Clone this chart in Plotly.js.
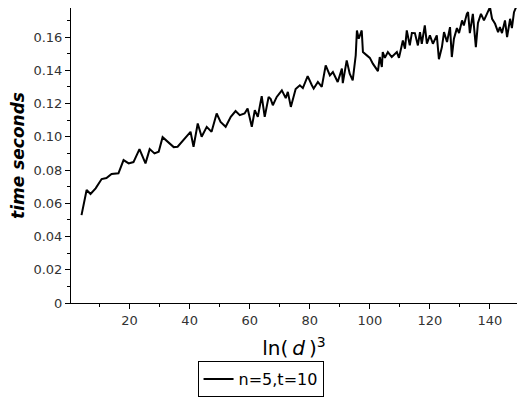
<!DOCTYPE html>
<html>
<head>
<meta charset="utf-8">
<script src="https://cdn.plot.ly/plotly-3.0.1.min.js"></script>
<style>
  html, body { margin: 0; padding: 0; background: #fff; }
  #chart { width: 524px; height: 400px; }
</style>
</head>
<body>
<div id="chart"></div>
<script>
"use strict";

const lnD3 = [
  4.0, 5.7, 7.0, 8.7, 10.7, 12.3, 14.0, 16.3, 18.0, 19.7, 21.3, 23.3, 25.3, 26.7, 28.3, 29.7,
  31.0, 32.7, 34.7, 36.0, 38.3, 40.3, 41.3, 42.7, 44.0, 45.7, 47.3, 49.0, 50.3, 52.0, 53.7,
  55.3, 56.7, 58.3, 59.3, 60.7, 61.7, 62.7, 64.0, 65.0, 66.3, 67.0, 67.7, 69.0, 70.7, 72.0,
  72.7, 73.7, 75.3, 76.7, 77.7, 79.3, 80.7, 81.3, 82.7, 84.0, 85.3, 86.7, 87.7, 89.3, 90.7,
  91.0, 92.3, 93.3, 94.3, 95.3, 95.7, 96.3, 97.3, 97.7, 99.0, 100.0, 101.0, 101.7, 102.7,
  103.3, 104.0, 104.3, 105.0, 106.0, 107.3, 109.0, 109.7, 111.0, 111.7, 112.3, 113.3, 114.0,
  115.0, 116.0, 116.7, 117.3, 118.3, 119.0, 120.0, 121.0, 122.3, 123.0, 124.0, 124.7, 125.7,
  126.7, 127.3, 128.0, 129.0, 129.7, 130.7, 131.3, 132.3, 132.7, 133.3, 134.3, 135.3, 136.0,
  137.0, 138.0, 139.3, 140.0, 140.7, 141.7, 142.7, 143.3, 144.0, 145.0, 145.7, 146.7, 147.3,
  148.0, 148.7
];
const timeSec = [
  0.0529, 0.068, 0.0656, 0.069, 0.0746, 0.0752, 0.0776, 0.078, 0.086, 0.084, 0.0848, 0.0926,
  0.084, 0.0926, 0.090, 0.091, 0.0998, 0.0968, 0.0938, 0.094, 0.099, 0.103, 0.094, 0.108,
  0.100, 0.106, 0.103, 0.114, 0.109, 0.106, 0.112, 0.1155, 0.113, 0.114, 0.117, 0.106, 0.116,
  0.112, 0.1245, 0.112, 0.124, 0.1227, 0.119, 0.124, 0.128, 0.1233, 0.127, 0.118, 0.1287,
  0.131, 0.1293, 0.1365, 0.131, 0.129, 0.133, 0.130, 0.143, 0.137, 0.139, 0.133, 0.141,
  0.1323, 0.146, 0.138, 0.134, 0.149, 0.164, 0.159, 0.164, 0.151, 0.149, 0.1475, 0.144,
  0.142, 0.1395, 0.148, 0.142, 0.151, 0.1475, 0.151, 0.148, 0.151, 0.1475, 0.158, 0.153,
  0.164, 0.155, 0.1625, 0.1624, 0.155, 0.163, 0.156, 0.167, 0.156, 0.161, 0.156, 0.161,
  0.1467, 0.154, 0.163, 0.157, 0.166, 0.148, 0.159, 0.1654, 0.1624, 0.170, 0.167, 0.174,
  0.175, 0.1624, 0.174, 0.154, 0.1685, 0.174, 0.170, 0.176, 0.178, 0.171, 0.168, 0.163,
  0.166, 0.1624, 0.170, 0.160, 0.171, 0.1654, 0.175, 0.178
];
const yTicks = [0, 0.02, 0.04, 0.06, 0.08, 0.10, 0.12, 0.14, 0.16];
const yTickText = ["0", "0.02", "0.04", "0.06", "0.08", "0.10", "0.12", "0.14", "0.16"];
const xTicks = [20, 40, 60, 80, 100, 120, 140];
const seriesName = "n=5,t=10";

const font = "DejaVu Sans, Verdana, sans-serif";

const trace = {
  type: "scatter",
  mode: "lines",
  name: seriesName,
  x: lnD3,
  y: timeSec,
  line: { color: "#000", width: 2 },
  hoverinfo: "x+y",
};

const axisBase = {
  showline: true,
  linecolor: "#000",
  linewidth: 1,
  showgrid: false,
  zeroline: false,
  ticks: "outside",
  ticklen: 5,
  tickcolor: "#000",
  tickfont: { family: font, size: 13, color: "#333" },
};

const layout = {
  width: 524,
  height: 400,
  paper_bgcolor: "#fff",
  plot_bgcolor: "#fff",
  margin: { l: 71, r: 7, t: 8, b: 97, autoexpand: false },
  showlegend: true,
  legend: {
    orientation: "h",
    x: 0.425, xanchor: "center",
    y: -0.197, yanchor: "top",
    bordercolor: "#000",
    borderwidth: 1,
    font: { family: font, size: 16, color: "#000" },
  },
  xaxis: Object.assign({}, axisBase, {
    range: [0.5, 149],
    tickvals: xTicks,
    minor: { dtick: 10, tick0: 0, ticks: "outside", ticklen: 3, tickcolor: "#000" },
    title: { text: "ln(&#8201;<i>d</i>&#8201;)<sup>3</sup>", font: { family: font, size: 20, color: "#000" }, standoff: 14 },
  }),
  yaxis: Object.assign({}, axisBase, {
    range: [0, 0.1775],
    tickvals: yTicks,
    ticktext: yTickText,
    minor: { dtick: 0.01, tick0: 0, ticks: "outside", ticklen: 3, tickcolor: "#000" },
    title: { text: "<b><i>time seconds</i></b>", font: { family: font, size: 17, color: "#000" }, standoff: 4 },
  }),
};

Plotly.newPlot("chart", [trace], layout, { displayModeBar: false, staticPlot: true });
</script>
</body>
</html>
